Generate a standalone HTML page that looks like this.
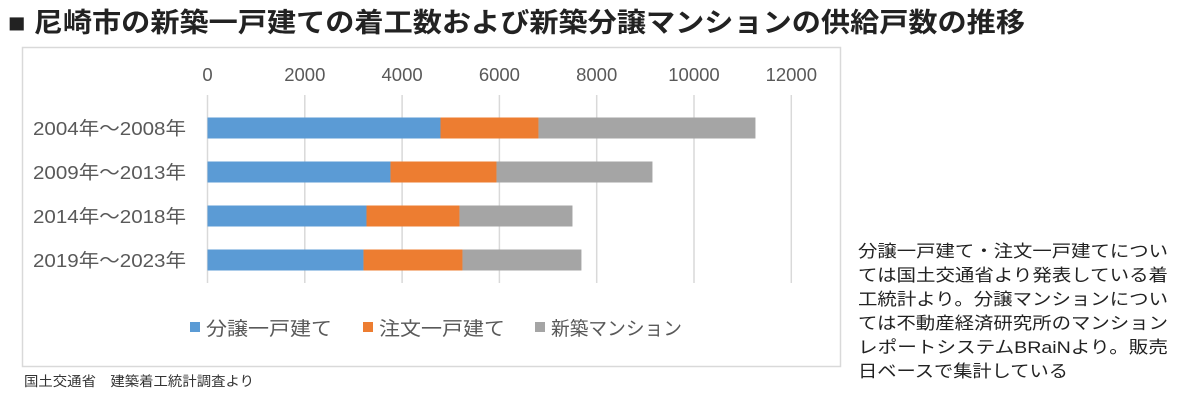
<!DOCTYPE html>
<html><head><meta charset="utf-8"><style>
html,body{margin:0;padding:0;background:#fff;}
svg{display:block;font-family:"Liberation Sans","Noto Sans CJK JP",sans-serif;}
</style></head><body>
<svg id="c" width="1180" height="400" viewBox="0 0 1180 400" xmlns="http://www.w3.org/2000/svg">
<text x="8" y="32" font-size="27" font-weight="bold" fill="#222" textLength="1017" lengthAdjust="spacingAndGlyphs">■ 尼崎市の新築一戸建ての着工数および新築分譲マンションの供給戸数の推移</text>
<rect x="22.5" y="47.5" width="818" height="319" fill="#fff" stroke="#d9d9d9" stroke-width="1.5"/>
<g id="grid"></g><g id="bars"></g><g id="ticks"></g><g id="cats"></g>
<g>
<rect x="190" y="322" width="10" height="10" fill="#5b9bd5"/>
<text x="206" y="335" font-size="19" fill="#595959" textLength="126" lengthAdjust="spacingAndGlyphs">分譲一戸建て</text>
<rect x="363" y="322" width="10" height="10" fill="#ed7d31"/>
<text x="379" y="335" font-size="19" fill="#595959" textLength="126" lengthAdjust="spacingAndGlyphs">注文一戸建て</text>
<rect x="535" y="322" width="10" height="10" fill="#a5a5a5"/>
<text x="551" y="335" font-size="19" fill="#595959" textLength="131" lengthAdjust="spacingAndGlyphs">新築マンション</text>
</g>
<text x="24" y="386" font-size="13.5" fill="#333" textLength="230" lengthAdjust="spacingAndGlyphs">国土交通省　建築着工統計調査より</text>
<g font-size="17" fill="#222">
<text x="858" y="257" textLength="310" lengthAdjust="spacingAndGlyphs">分譲一戸建て・注文一戸建てについ</text>
<text x="858" y="281" textLength="310" lengthAdjust="spacingAndGlyphs">ては国土交通省より発表している着</text>
<text x="858" y="305" textLength="310" lengthAdjust="spacingAndGlyphs">工統計より。分譲マンションについ</text>
<text x="858" y="329" textLength="310" lengthAdjust="spacingAndGlyphs">ては不動産経済研究所のマンション</text>
<text x="858" y="353" textLength="310" lengthAdjust="spacingAndGlyphs">レポートシステムBRaiNより。販売</text>
<text x="858" y="377" textLength="210" lengthAdjust="spacingAndGlyphs">日ベースで集計している</text>
</g>
</svg>
<script>
const categories = ["2004年～2008年","2009年～2013年","2014年～2018年","2019年～2023年"];
const bunjo = [4789, 3761, 3268, 3206];
const chumon = [2014, 2179, 1911, 2035];
const mansion = [4460, 3206, 2323, 2445];
const tickValues = [0,2000,4000,6000,8000,10000,12000];
const colors = ["#5b9bd5","#ed7d31","#a5a5a5"];
const NS="http://www.w3.org/2000/svg";
const x0=207.5, pxPer=97.3/2000;
function xs(v){return x0+v*pxPer;}
function ys(i){return 128+i*44;}
const grid=document.getElementById('grid'), bars=document.getElementById('bars'), ticks=document.getElementById('ticks'), cats=document.getElementById('cats');
tickValues.forEach(v=>{
  const l=document.createElementNS(NS,'line');
  l.setAttribute('x1',xs(v));l.setAttribute('x2',xs(v));l.setAttribute('y1',95);l.setAttribute('y2',283);
  l.setAttribute('stroke','#d9d9d9');l.setAttribute('stroke-width','1.5');
  
  
  grid.appendChild(l);
  const t=document.createElementNS(NS,'text');
  t.setAttribute('x',xs(v));t.setAttribute('y',81);t.setAttribute('text-anchor','middle');
  t.setAttribute('font-size','18.5');t.setAttribute('fill','#595959');t.textContent=v;
  
  
  ticks.appendChild(t);
});
const series=[bunjo,chumon,mansion];
categories.forEach((c,i)=>{
  const t=document.createElementNS(NS,'text');
  t.setAttribute('x',33);t.setAttribute('y',ys(i)+7);
  t.setAttribute('font-size','18.5');t.setAttribute('fill','#595959');
  t.setAttribute('textLength','153');t.setAttribute('lengthAdjust','spacingAndGlyphs');
  t.textContent=c;
  
  
  cats.appendChild(t);
  let acc=0;
  series.forEach((s,k)=>{
    const r=document.createElementNS(NS,'rect');
    r.setAttribute('x',xs(acc));r.setAttribute('width',xs(acc+s[i])-xs(acc));
    r.setAttribute('y',ys(i)-10.5);r.setAttribute('height',21);r.setAttribute('fill',colors[k]);
    
    
    bars.appendChild(r);
    acc+=s[i];
  });
});
</script>
</body></html>
